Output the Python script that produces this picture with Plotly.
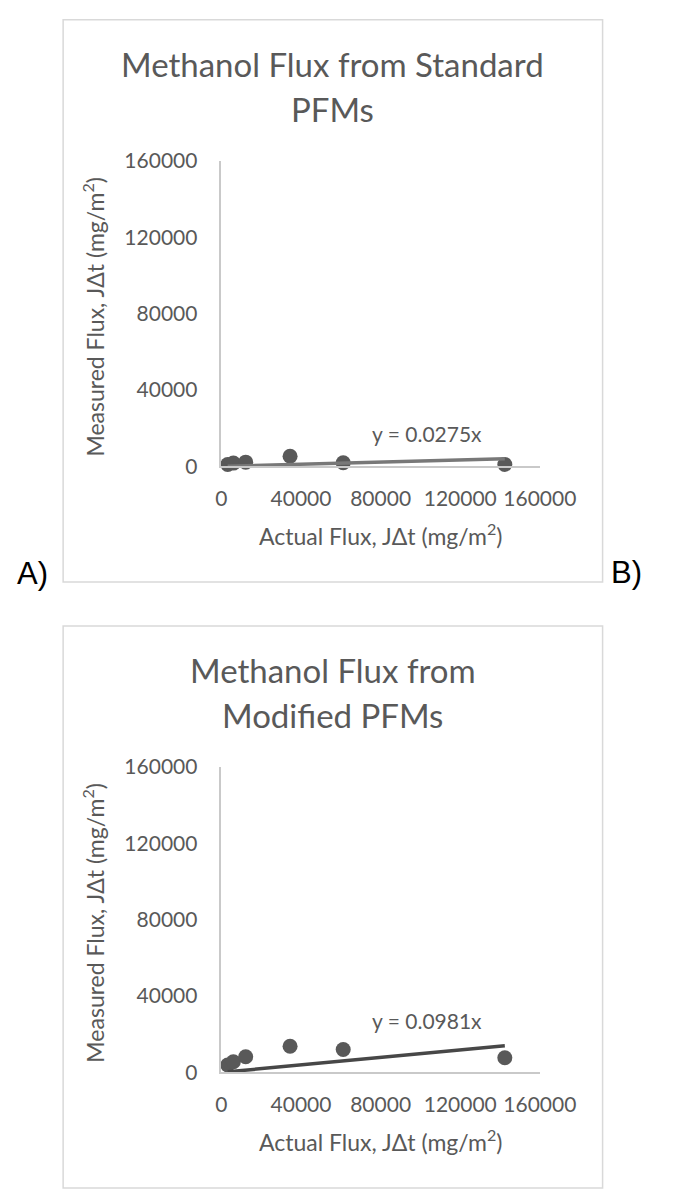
import plotly.graph_objects as go

W, H = 678, 1196

# ---- data ----
actual_flux = [3150, 6000, 12200, 34500, 61200, 142400]
measured_standard = [1000, 1700, 2200, 5300, 1900, 1000]
measured_modified = [3900, 5600, 8200, 13700, 12000, 7700]
slopes = [0.0275, 0.0981]
titles = [["Methanol Flux from Standard", "PFMs"], ["Methanol Flux from", "Modified PFMs"]]
panel_labels = ["A)", "B)"]
tick_vals = [0, 40000, 80000, 120000, 160000]
tick_text = [str(v) for v in tick_vals]
x_title = "Actual Flux, JΔt (mg/m<sup>2</sup>)"
y_title = "Measured Flux, JΔt (mg/m<sup>2</sup>)"

series = [measured_standard, measured_modified]
trend_colors = ["#787878", "#474747"]
FONT = "Lato"
GREY = "#595959"


def px(x):
    return x / W


def py(y):
    return 1 - y / H


fig = go.Figure()
panel_tops = [6, 625]
box_h = 574
plot_left, plot_right = 230, 570
rel_top, rel_bottom = 144, 456

annotations = []
shapes = []

for i, (top, ys, slope) in enumerate(zip(panel_tops, series, slopes)):
    n = "" if i == 0 else str(i + 1)
    xa = "x" + n
    ya = "y" + n
    # box
    shapes.append(dict(type="rect", xref="paper", yref="paper",
                       x0=px(61), x1=px(637), y0=py(top + box_h), y1=py(top),
                       line=dict(color="#d9d9d9", width=1.5), fillcolor="rgba(0,0,0,0)", layer="below"))
    axis_common = dict(range=[0, 160000], tickvals=tick_vals, ticktext=tick_text,
                       showline=True, linecolor="#c9c9c9", linewidth=1.5,
                       showgrid=False, zeroline=False, ticks="",
                       tickfont=dict(family=FONT, size=21, color=GREY))
    fig.update_layout(**{
        "xaxis" + n: dict(domain=[px(plot_left), px(plot_right)], anchor=ya,
                          ticklabelstandoff=13, **axis_common),
        "yaxis" + n: dict(domain=[py(top + rel_bottom), py(top + rel_top)], anchor=xa,
                          ticklabelstandoff=18, **axis_common),
    })
    # markers
    fig.add_trace(go.Scatter(x=actual_flux, y=ys, mode="markers", xaxis=xa, yaxis=ya,
                             marker=dict(size=15, color=GREY), cliponaxis=False,
                             showlegend=False))
    # trendline (through origin)
    xs = [min(actual_flux), max(actual_flux)]
    fig.add_trace(go.Scatter(x=xs, y=[slope * v for v in xs], mode="lines", xaxis=xa, yaxis=ya,
                             line=dict(color=trend_colors[i], width=3.5), cliponaxis=False,
                             showlegend=False))
    # equation label
    annotations.append(dict(x=max(actual_flux), y=slope * max(actual_flux), xref=xa, yref=ya,
                            text=f"y = {slope}x", showarrow=False, xshift=-78, yshift=25,
                            font=dict(family=FONT, size=21, color=GREY)))
    # titles
    for j, line in enumerate(titles[i]):
        annotations.append(dict(x=px(349), y=py(top + 45 + 46 * j), xref="paper", yref="paper",
                                text=line, showarrow=False, xanchor="center", yanchor="middle",
                                font=dict(family=FONT, size=33, color=GREY)))
    # axis titles
    annotations.append(dict(x=px(400), y=py(top + 526), xref="paper", yref="paper",
                            text=x_title, showarrow=False, xanchor="center", yanchor="middle",
                            font=dict(family=FONT, size=23, color=GREY)))
    annotations.append(dict(x=px(94), y=py(top + 303), xref="paper", yref="paper",
                            text=y_title, showarrow=False, textangle=-90,
                            xanchor="center", yanchor="middle",
                            font=dict(family=FONT, size=23, color=GREY)))

# panel labels
annotations.append(dict(x=px(28), y=py(571), xref="paper", yref="paper", text=panel_labels[0],
                        showarrow=False, xanchor="center", yanchor="middle",
                        font=dict(family="Liberation Sans", size=31, color="#000000")))
annotations.append(dict(x=px(662), y=py(570), xref="paper", yref="paper", text=panel_labels[1],
                        showarrow=False, xanchor="center", yanchor="middle",
                        font=dict(family="Liberation Sans", size=31, color="#000000")))

fig.update_layout(width=W, height=H, margin=dict(l=0, r=0, t=0, b=0),
                  paper_bgcolor="white", plot_bgcolor="white",
                  annotations=annotations, shapes=shapes)

fig.write_html("out.html")
